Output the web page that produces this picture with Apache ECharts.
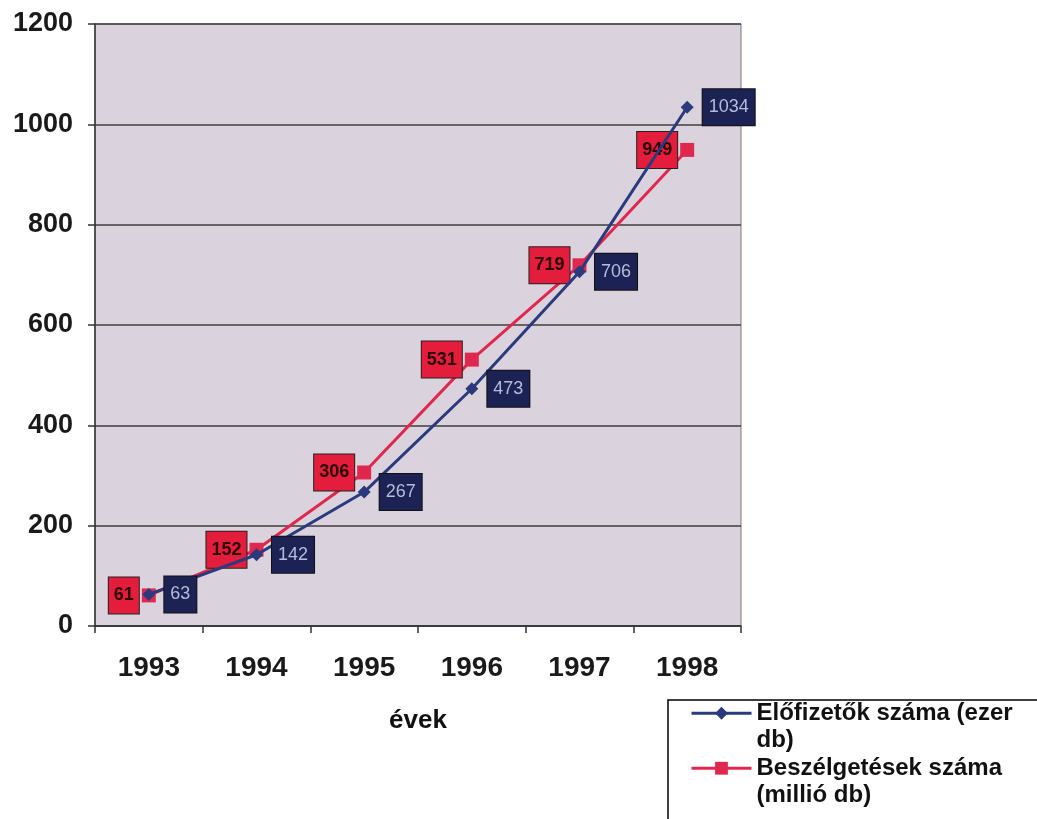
<!DOCTYPE html>
<html>
<head>
<meta charset="utf-8">
<script src="https://cdn.jsdelivr.net/npm/echarts@6/dist/echarts.min.js"></script>
<style>
  html, body { margin: 0; padding: 0; background: #ffffff; }
  #chart { width: 1037px; height: 819px; }
</style>
</head>
<body>
<div id="chart"></div>
<script>
// Years on the category axis
const years = ['1993', '1994', '1995', '1996', '1997', '1998'];
// Subscribers (thousand)
const subscribers = [63, 142, 267, 473, 706, 1034];
// Calls (million)
const calls = [61, 152, 306, 531, 719, 949];
// Value axis ticks
const yTicks = [0, 200, 400, 600, 800, 1000, 1200];

const seriesNames = ['Előfizetők száma (ezer db)', 'Beszélgetések száma (millió db)'];
const legendText = {
  'Előfizetők száma (ezer db)': '\nElőfizetők száma (ezer\ndb)',
  'Beszélgetések száma (millió db)': '\nBeszélgetések száma\n(millió db)'
};

const FONT = '"Liberation Sans", Arial, sans-serif';
const BLUE = '#2b3a7c';
const RED = '#e0284f';

const chart = echarts.init(document.getElementById('chart'));

chart.setOption({
  backgroundColor: '#ffffff',
  animation: false,
  textStyle: { fontFamily: FONT },
  grid: {
    left: 95, right: 296, top: 24, bottom: 193,
    show: true,
    backgroundColor: '#dad3de',
    borderColor: '#7a7a7a',
    borderWidth: 1
  },
  xAxis: {
    type: 'category',
    data: years,
    boundaryGap: true,
    name: 'évek',
    nameLocation: 'middle',
    nameGap: 82,
    nameTextStyle: { fontSize: 26, fontWeight: 'bold', color: '#111', fontFamily: FONT },
    axisLine: { show: true, lineStyle: { color: '#333', width: 1.5 } },
    axisTick: { show: true, inside: false, length: 7, lineStyle: { color: '#333', width: 1.5 } },
    axisLabel: { fontSize: 28, fontWeight: 'bold', color: '#1a1a1a', margin: 28, fontFamily: FONT },
    splitLine: { show: false }
  },
  yAxis: {
    type: 'value',
    min: yTicks[0],
    max: yTicks[yTicks.length - 1],
    interval: 200,
    axisLine: { show: true, lineStyle: { color: '#333', width: 1.5 } },
    axisTick: { show: true, length: 7, lineStyle: { color: '#333', width: 1.5 } },
    axisLabel: {
      fontSize: 27, fontWeight: 'bold', color: '#1a1a1a', margin: 22, fontFamily: FONT,
      formatter: v => String(v)
    },
    splitLine: { show: true, lineStyle: { color: '#3e3e3e', width: 1.5 } }
  },
  legend: {
    orient: 'vertical',
    left: 690,
    top: 672,
    padding: 0,
    itemWidth: 60,
    itemHeight: 16,
    itemGap: -27.5,
    data: seriesNames,
    lineStyle: { width: 3 },
    formatter: name => legendText[name],
    textStyle: { fontSize: 24, fontWeight: 'bold', color: '#111', lineHeight: 27.5, fontFamily: FONT }
  },
  graphic: [{
    type: 'rect',
    shape: { x: 668, y: 700, width: 420, height: 160 },
    style: { fill: 'none', stroke: '#000', lineWidth: 1.5 },
    silent: true
  }],
  series: [
    {
      name: seriesNames[0],
      type: 'line',
      data: subscribers,
      symbol: 'diamond',
      symbolSize: 13,
      lineStyle: { color: BLUE, width: 3 },
      itemStyle: { color: BLUE },
      z: 3,
      label: {
        show: true,
        position: 'right',
        distance: 9,
        fontSize: 18,
        color: '#b4bddc',
        fontFamily: FONT,
        backgroundColor: '#1c2253',
        borderColor: '#111',
        borderWidth: 1,
        padding: [9, 6]
      }
    },
    {
      name: seriesNames[1],
      type: 'line',
      data: calls,
      symbol: 'rect',
      symbolSize: 14,
      lineStyle: { color: RED, width: 3 },
      itemStyle: { color: RED },
      z: 2,
      label: {
        show: true,
        position: 'left',
        distance: 3,
        fontSize: 18,
        fontWeight: 'bold',
        color: '#2a0808',
        fontFamily: FONT,
        backgroundColor: '#e41d3d',
        borderColor: '#222',
        borderWidth: 1,
        padding: [9, 5]
      }
    }
  ]
});
</script>
</body>
</html>
